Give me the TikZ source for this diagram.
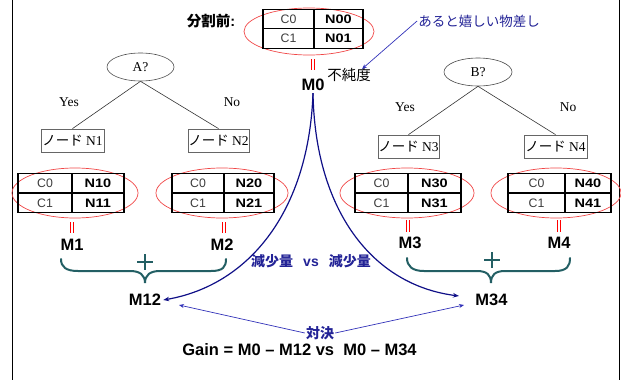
\documentclass[tikz,border=0pt]{standalone}
\usepackage{fontspec}
\setmainfont{Liberation Serif}
\newfontfamily\sansf{Liberation Sans}
\newfontfamily\sansw[FakeStretch=1.18]{Liberation Sans}
\newfontfamily\jp{Noto Sans CJK JP}
\usetikzlibrary{shapes.geometric,arrows.meta}
\definecolor{curveblue}{RGB}{15,15,135}
\definecolor{txtblue}{RGB}{35,35,150}
\definecolor{lineblue}{RGB}{50,50,185}
\definecolor{braceteal}{RGB}{35,95,100}
\definecolor{ellred}{RGB}{240,70,70}
\definecolor{cellgray}{RGB}{60,60,60}
\tikzset{
  cell/.style={draw=black, line width=1.2pt, inner sep=0pt, minimum height=19.5pt},
  ctext/.style={cell, text=cellgray, font=\sansf\fontsize{12.3}{13}\selectfont},
  ntext/.style={cell, font=\sansw\bfseries\fontsize{12.3}{13}\selectfont},
  redell/.style={draw=ellred, line width=0.7pt, ellipse, inner sep=0pt},
  mlab/.style={font=\sansf\bfseries\fontsize{16.5}{18}\selectfont, inner sep=2pt},
  eqbar/.style={draw=red, line width=1.5pt},
  qell/.style={draw=black!70, line width=0.6pt, ellipse, inner sep=0pt, font=\fontsize{13.5}{15}\selectfont},
  nbox/.style={draw=black!60, line width=0.8pt, inner sep=0pt, minimum height=23pt, font=\fontsize{13.5}{15}\selectfont},
  yn/.style={font=\fontsize{13.5}{15}\selectfont, inner sep=0pt},
  treeline/.style={draw=black!80, line width=0.6pt},
  curvearrow/.style={draw=curveblue, line width=1.2pt, -{Stealth[length=6pt,width=4.5pt]}},
  thinarrow/.style={draw=lineblue, line width=0.7pt, -{Stealth[length=5pt,width=4pt]}},
  bracestyle/.style={draw=braceteal, line width=2pt, line cap=round},
  plusstyle/.style={draw=braceteal, line width=2.6pt},
  bluetext/.style={text=txtblue, inner sep=1pt},
}
\begin{document}
\begin{tikzpicture}[x=1pt,y=-1pt]
\useasboundingbox (0,0) rectangle (621,380);
% frame
\draw[line width=1.8pt] (12.5,0) -- (12.5,380);
\draw[line width=1.5pt] (619.5,0) -- (619.5,380);

% ---------- top table ----------
\node[redell, minimum width=130, minimum height=47] (e0) at (309,31.5) {};
\node[ctext, minimum width=51] (t0a) at (288.5,19) {C0};
\node[ntext, minimum width=49] (t0b) at (338.5,19) {N00};
\node[ctext, minimum width=51] (t0c) at (288.5,38.5) {C1};
\node[ntext, minimum width=49] (t0d) at (338.5,38.5) {N01};
\node[font=\jp\bfseries\fontsize{14.5}{16}\selectfont, inner sep=0pt] (bunkatsu) at (211,21) {分割前{\sansf:}};
\draw[eqbar] (311.5,59) -- (311.5,70) (314.5,59) -- (314.5,70);
\node[mlab] (m0) at (313,85) {M0};
\node[font=\jp\fontsize{14.5}{16}\selectfont, inner sep=0pt] (fujun) at (349,75) {不純度};
\node[bluetext, font=\jp\fontsize{13.5}{15}\selectfont] (ureshii) at (479,21) {あると嬉しい物差し};
\coordinate (fujuntip) at (362,69);
\draw[thinarrow] (ureshii.west) -- (fujuntip);

% ---------- left tree ----------
\node[qell, minimum width=67, minimum height=28] (qa) at (140.5,67) {A?};
\node[nbox, minimum width=63] (n1) at (72.5,140.5) {{\jp ノード} N1};
\node[nbox, minimum width=61] (n2) at (218.5,140.5) {{\jp ノード} N2};
\draw[treeline] (qa.south) -- (n1.north);
\draw[treeline] (qa.south) -- (n2.north);
\node[yn] (yesa) at (69,102) {Yes};
\node[yn] (noa) at (232,102) {No};

% ---------- right tree ----------
\node[qell, minimum width=68, minimum height=28] (qb) at (478,72) {B?};
\node[nbox, minimum width=61] (n3) at (408.5,146.5) {{\jp ノード} N3};
\node[nbox, minimum width=63] (n4) at (555.5,146.5) {{\jp ノード} N4};
\draw[treeline] (qb.south) -- (n3.north);
\draw[treeline] (qb.south) -- (n4.north);
\node[yn] (yesb) at (405,107) {Yes};
\node[yn] (nob) at (568,107) {No};

% ---------- tables row 2 ----------
\node[redell, minimum width=126, minimum height=50] (e1) at (75,193) {};
\node[ctext, minimum width=54] (t1a) at (45,183) {C0};
\node[ntext, minimum width=52] (t1b) at (98,183) {N10};
\node[ctext, minimum width=54] (t1c) at (45,203) {C1};
\node[ntext, minimum width=52] (t1d) at (98,203) {N11};

\node[redell, minimum width=132, minimum height=50] (e2) at (222,193) {};
\node[ctext, minimum width=52] (t2a) at (198,183) {C0};
\node[ntext, minimum width=50] (t2b) at (249,183) {N20};
\node[ctext, minimum width=52] (t2c) at (198,203) {C1};
\node[ntext, minimum width=50] (t2d) at (249,203) {N21};

\node[redell, minimum width=134, minimum height=50] (e3) at (407,193) {};
\node[ctext, minimum width=53] (t3a) at (381.5,183) {C0};
\node[ntext, minimum width=53] (t3b) at (434.5,183) {N30};
\node[ctext, minimum width=53] (t3c) at (381.5,203) {C1};
\node[ntext, minimum width=53] (t3d) at (434.5,203) {N31};

\node[redell, minimum width=130, minimum height=50] (e4) at (556,193) {};
\node[ctext, minimum width=57] (t4a) at (536.5,183) {C0};
\node[ntext, minimum width=46] (t4b) at (588,183) {N40};
\node[ctext, minimum width=57] (t4c) at (536.5,203) {C1};
\node[ntext, minimum width=46] (t4d) at (588,203) {N41};

% equal bars and M labels
\draw[eqbar] (70.5,222) -- (70.5,233) (73.5,222) -- (73.5,233);
\draw[eqbar] (222.5,222) -- (222.5,233) (225.5,222) -- (225.5,233);
\draw[eqbar] (406.5,220) -- (406.5,232) (409.5,220) -- (409.5,232);
\draw[eqbar] (557.5,220) -- (557.5,232) (560.5,220) -- (560.5,232);
\node[mlab] (m1) at (72,245) {M1};
\node[mlab] (m2) at (222,245) {M2};
\node[mlab] (m3) at (410,243) {M3};
\node[mlab] (m4) at (559,243) {M4};

% braces and plus
\draw[bracestyle] (61,259) .. controls (61,267) and (66,271) .. (78,271) -- (130,271)
  .. controls (140,271) and (145,275) .. (145,283)
  .. controls (145,275) and (150,271) .. (160,271) -- (211,271)
  .. controls (223,271) and (226,267) .. (226,259);
\draw[plusstyle] (137,262) -- (153,262) (145,254) -- (145,270);
\draw[bracestyle] (407,258) .. controls (407,266) and (412,271) .. (424,271) -- (477,271)
  .. controls (487,271) and (491,275) .. (491,283)
  .. controls (491,275) and (495,271) .. (505,271) -- (555,271)
  .. controls (567,271) and (570,266) .. (570,258);
\draw[plusstyle] (484,260) -- (500,260) (492,252) -- (492,268);

% M12, M34 and curves
\node[mlab] (m12) at (145,300) {M12};
\node[mlab] (m34) at (491.5,300) {M34};
\coordinate (m34tip) at (459,296);
\draw[curvearrow] (m0.south) .. controls (309,210) and (250,285) .. (m12.east);
\draw[curvearrow] (m0.south) .. controls (315,210) and (372,285) .. (m34tip);
\node[bluetext, font=\fontsize{14}{16}\selectfont] (genshou) at (311,261)
  {{\jp\bfseries 減少量}\hspace{10pt}{\sansf\bfseries vs}\hspace{10pt}{\jp\bfseries 減少量}};

% taiketsu
\node[bluetext, font=\jp\bfseries\fontsize{14}{16}\selectfont] (taiketsu) at (320,333) {対決};
\coordinate (tipL) at (179,305);
\coordinate (tipR) at (464,305);
\draw[thinarrow] (taiketsu.west) -- (tipL);
\draw[thinarrow] (taiketsu.east) -- (tipR);
\node[font=\sansf\bfseries\fontsize{16.5}{18}\selectfont, inner sep=0pt] (gain) at (299.5,350)
  {Gain = M0 – M12 vs \ M0 – M34};
\end{tikzpicture}
\end{document}
